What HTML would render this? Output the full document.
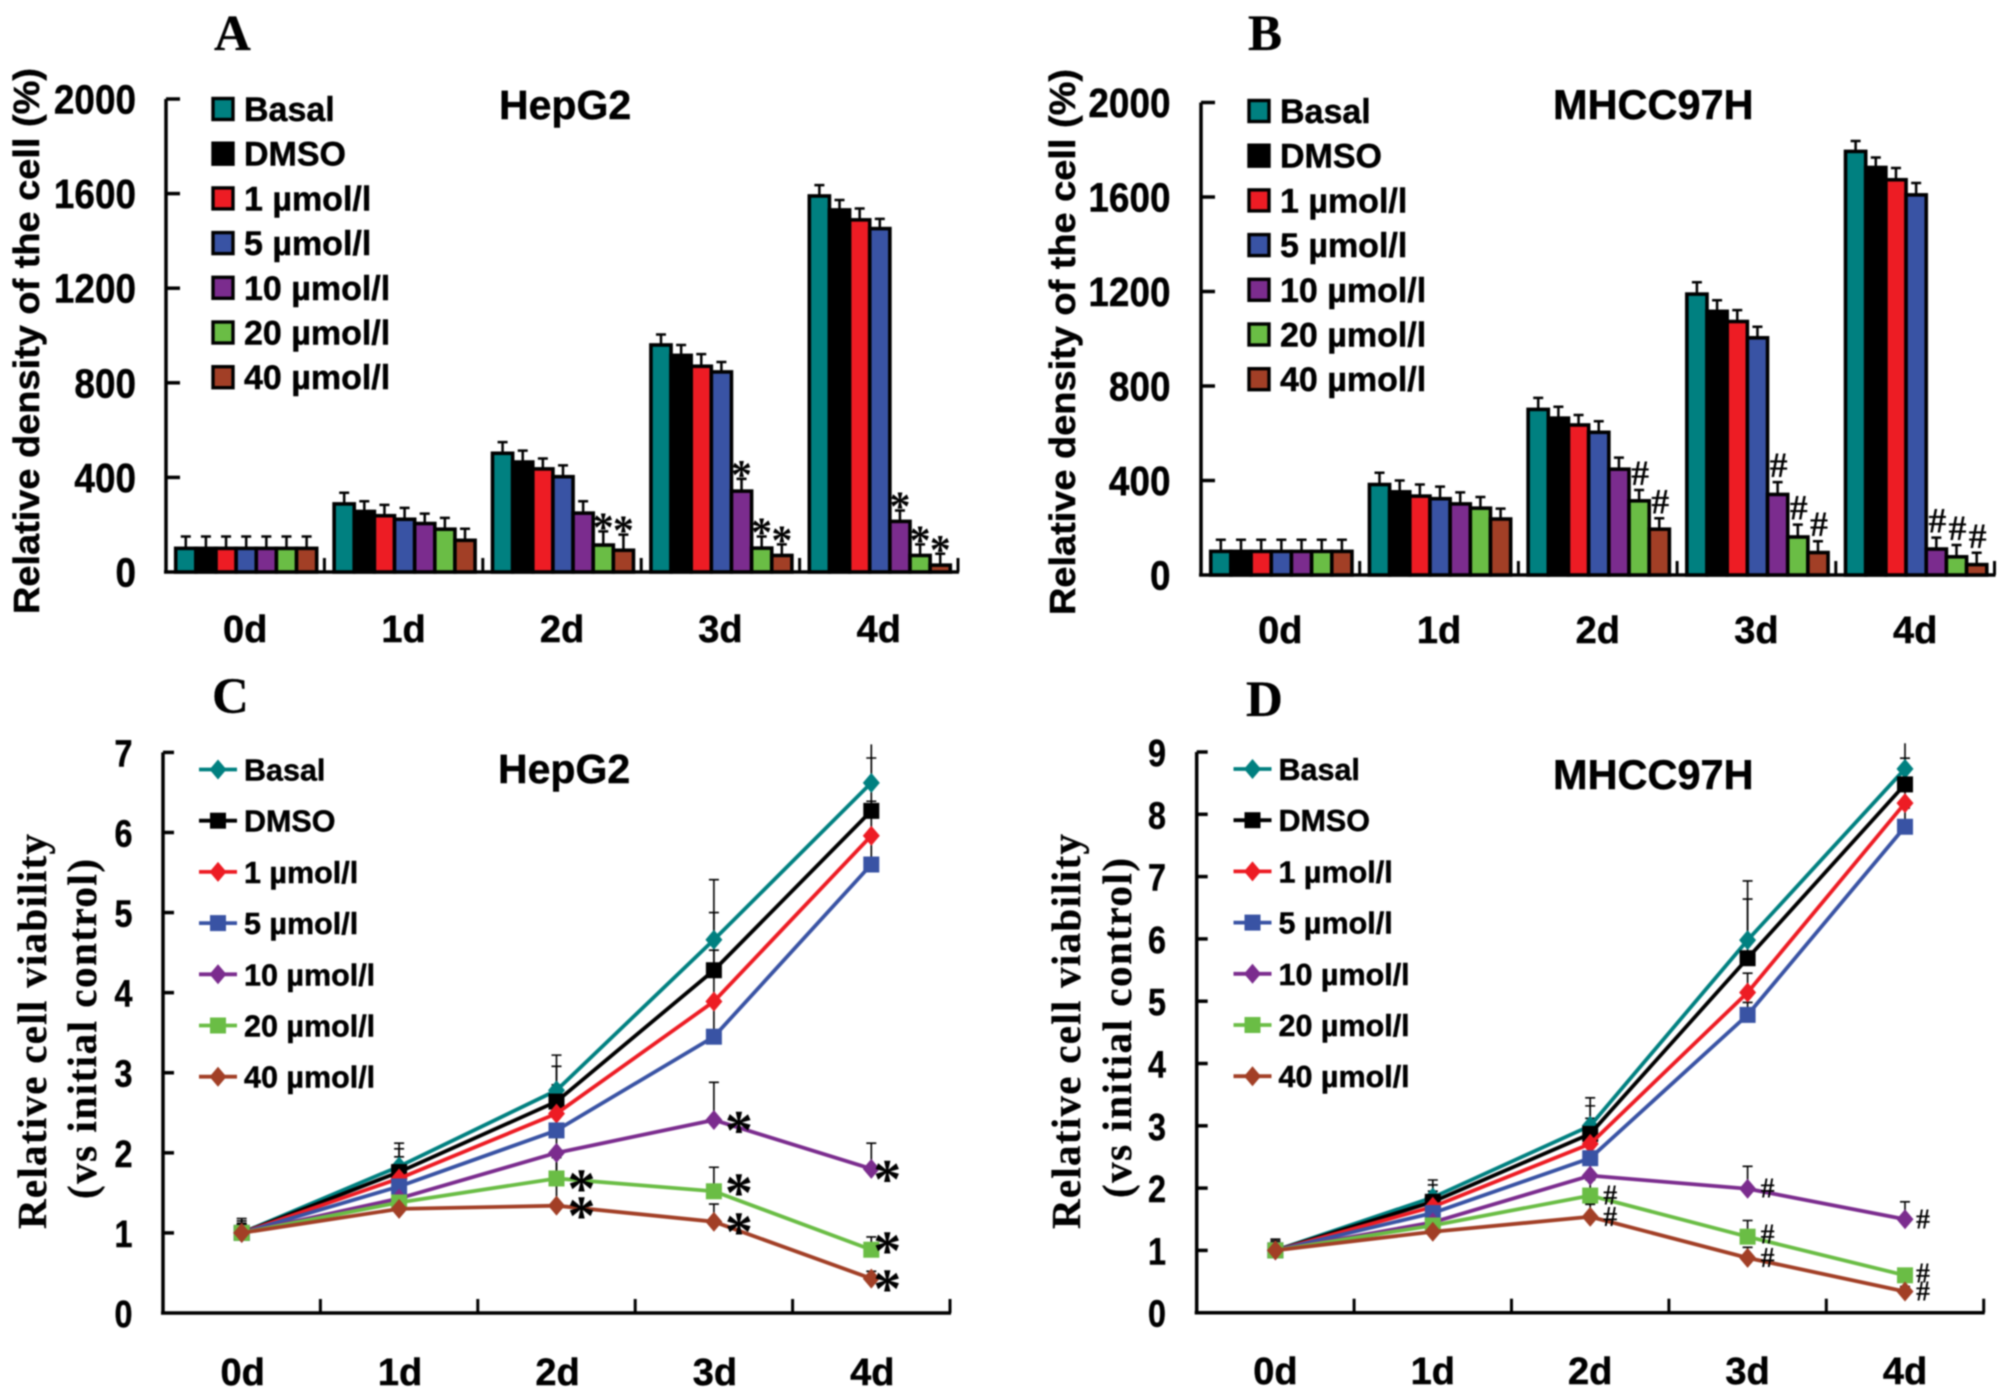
<!DOCTYPE html>
<html lang="en">
<head>
<meta charset="utf-8">
<title>Relative density and viability of HepG2 and MHCC97H cells</title>
<style>
html,body{margin:0;padding:0;background:#fff}
#figure{display:block;width:2008px;height:1399px;background:#fff;filter:blur(.7px)}
text{fill:#000}
.sans{font-family:"Liberation Sans",sans-serif;font-weight:700;stroke:#000;stroke-width:.45}
.serif{font-family:"Liberation Serif",serif;font-weight:700;stroke:#000;stroke-width:.3}
.mark{font-family:"Liberation Serif",serif;font-weight:700;text-anchor:middle}
</style>
</head>
<body>
<svg id="figure" xmlns="http://www.w3.org/2000/svg" width="2008" height="1399" viewBox="0 0 2008 1399">
  <g id="panel-a">
    <text class="serif" x="214" y="50" font-size="51">A</text>
    <text class="sans" x="499" y="119" font-size="41">HepG2</text>
    <text class="sans" transform="translate(39,614) rotate(-90)" font-size="36" textLength="546" lengthAdjust="spacingAndGlyphs">Relative density of the cell (%)</text>
  </g>
  <g id="panel-b">
    <text class="serif" x="1248" y="50" font-size="51">B</text>
    <text class="sans" x="1553" y="119" font-size="41.5">MHCC97H</text>
    <text class="sans" transform="translate(1075,615) rotate(-90)" font-size="36" textLength="546" lengthAdjust="spacingAndGlyphs">Relative density of the cell (%)</text>
  </g>
  <g id="panel-c">
    <text class="serif" x="212" y="713" font-size="51">C</text>
    <text class="sans" x="498" y="783" font-size="41">HepG2</text>
    <text class="serif" transform="translate(46,1229) rotate(-90)" font-size="41" textLength="395">Relative cell viability</text>
    <text class="serif" transform="translate(96,1199) rotate(-90)" font-size="41" textLength="340">(vs initial control)</text>
  </g>
  <g id="panel-d">
    <text class="serif" x="1246" y="716" font-size="51">D</text>
    <text class="sans" x="1553" y="789" font-size="41.5">MHCC97H</text>
    <text class="serif" transform="translate(1080,1229) rotate(-90)" font-size="41" textLength="395">Relative cell viability</text>
    <text class="serif" transform="translate(1131,1198) rotate(-90)" font-size="41" textLength="340">(vs initial control)</text>
  </g>
</svg>
<script>
// ---- shared categories and series ----
const days = ['0d', '1d', '2d', '3d', '4d'];
const seriesNames = ['Basal', 'DMSO', '1 \u00b5mol/l', '5 \u00b5mol/l', '10 \u00b5mol/l', '20 \u00b5mol/l', '40 \u00b5mol/l'];
const densityTicks = ['0', '400', '800', '1200', '1600', '2000'];
const viabilityTicksC = ['0', '1', '2', '3', '4', '5', '6', '7'];
const viabilityTicksD = ['0', '1', '2', '3', '4', '5', '6', '7', '8', '9'];

// ---- panel A: one row per series, one value per day ----
const valuesA = [
  [100, 288, 502, 960, 1590],
  [100, 256, 465, 916, 1531],
  [100, 238, 436, 870, 1489],
  [100, 223, 403, 846, 1452],
  [100, 205, 249, 342, 214],
  [100, 181, 114, 101, 70],
  [100, 134, 92, 70, 29]
];
const errorsA = [
  [50, 47, 47, 44, 46],
  [50, 43, 48, 44, 42],
  [50, 46, 44, 51, 48],
  [50, 48, 48, 42, 41],
  [50, 42, 50, 52, 46],
  [50, 48, 58, 49, 47],
  [50, 49, 66, 47, 48]
];
// [series index, day index]
const significantA = [[5, 2], [6, 2], [4, 3], [5, 3], [6, 3], [4, 4], [5, 4], [6, 4]];

// ---- panel B ----
const valuesB = [
  [100, 383, 701, 1189, 1793],
  [100, 352, 664, 1116, 1725],
  [100, 334, 635, 1073, 1673],
  [100, 323, 604, 1004, 1609],
  [100, 301, 448, 341, 110],
  [100, 283, 314, 161, 77],
  [100, 237, 194, 95, 44]
];
const errorsB = [
  [49, 50, 49, 50, 44],
  [49, 48, 48, 47, 42],
  [49, 49, 42, 48, 50],
  [49, 51, 47, 47, 50],
  [49, 49, 49, 52, 48],
  [49, 47, 46, 52, 50],
  [49, 44, 46, 48, 50]
];
const significantB = [[5, 2], [6, 2], [4, 3], [5, 3], [6, 3], [4, 4], [5, 4], [6, 4]];

// ---- panel C ----
const valuesC = [
  [1, 1.83, 2.78, 4.66, 6.62],
  [1, 1.76, 2.64, 4.28, 6.27],
  [1, 1.68, 2.49, 3.89, 5.96],
  [1, 1.58, 2.28, 3.45, 5.6],
  [1, 1.43, 2.0, 2.41, 1.8],
  [1, 1.38, 1.68, 1.52, 0.79],
  [1, 1.3, 1.34, 1.14, 0.43]
];
const errorsC = [
  [0.18, 0.29, 0.44, 0.75, 0.48],
  [0.15, 0.29, 0.44, 0.72, 0.66],
  [0.12, 0.27, 0.36, 0.64, 0.43],
  [0.1, 0.2, 0.3, 0.4, 0.35],
  [0.1, 0.2, 0.3, 0.47, 0.32],
  [0.1, 0.15, 0.3, 0.3, 0.16],
  [0.1, 0.15, 0.6, 0.22, 0.09]
];
const significantC = [[4, 3], [4, 4], [5, 2], [5, 3], [5, 4], [6, 2], [6, 3], [6, 4]];

// ---- panel D ----
const valuesD = [
  [1, 1.85, 3.0, 5.98, 8.73],
  [1, 1.78, 2.87, 5.69, 8.48],
  [1, 1.7, 2.71, 5.14, 8.18],
  [1, 1.6, 2.48, 4.78, 7.8],
  [1, 1.45, 2.2, 1.99, 1.5],
  [1, 1.4, 1.88, 1.22, 0.6],
  [1, 1.3, 1.54, 0.88, 0.34]
];
const errorsD = [
  [0.18, 0.28, 0.45, 0.95, 0.41],
  [0.15, 0.27, 0.45, 0.95, 0.42],
  [0.12, 0.25, 0.41, 0.31, 0.3],
  [0.1, 0.2, 0.3, 0.2, 0.3],
  [0.1, 0.2, 0.3, 0.36, 0.28],
  [0.1, 0.15, 0.25, 0.26, 0.1],
  [0.1, 0.15, 0.2, 0.17, 0.08]
];
const significantD = [[4, 3], [4, 4], [5, 2], [5, 3], [5, 4], [6, 2], [6, 3], [6, 4]];

// ---- appearance ----
const fillColors = ['#008080', '#000000', '#ED1C24', '#3953A4', '#7B2C8E', '#6ABD45', '#A23F26'];
const markerShapes = ['diamond', 'square', 'diamond', 'square', 'diamond', 'square', 'diamond'];
const SVG_NS = 'http://www.w3.org/2000/svg';

function make(tag, attrs, parent) {
  const node = document.createElementNS(SVG_NS, tag);
  for (const key in attrs) node.setAttribute(key, attrs[key]);
  parent.appendChild(node);
  return node;
}

function slug(name) {
  return name.replace(/\u00b5mol\/l/, 'umol').replace(/\s+/g, '-').toLowerCase();
}

function drawAxes(p, g, ticks) {
  const maxTick = Number(ticks[ticks.length - 1]);
  const y = v => p.y0 - v * (p.y0 - p.yTop) / maxTick;
  const band = (p.xEnd - p.x0) / days.length;
  const yAxis = make('line', {x1: p.x0, y1: p.y0, x2: p.x0, y2: p.yTop, stroke: '#000', 'stroke-width': 3.5}, g);
  
  
  const xAxis = make('line', {x1: p.x0 - 2, y1: p.y0, x2: p.xEnd + 1, y2: p.y0, stroke: '#000', 'stroke-width': 3.5}, g);
  
  
  ticks.forEach(label => {
    const v = Number(label);
    if (v > 0) {
      const mark = make('line', {x1: p.x0, y1: y(v), x2: p.x0 + p.tickLen, y2: y(v), stroke: '#000', 'stroke-width': 3.5}, g);
      
      
    }
    const t = make('text', {'class': 'sans', 'text-anchor': 'end', 'font-size': p.tickFont,
      transform: 'translate(' + p.tickRight + ',' + (y(v) + p.tickDy) + ') scale(' + p.tickSquash + ',1)'}, g);
    t.textContent = label;
    
    
  });
  days.forEach((day, i) => {
    const bx = p.x0 + band * (i + 1);
    const mark = make('line', {x1: bx, y1: p.y0, x2: bx, y2: p.y0 - 14, stroke: '#000', 'stroke-width': 3}, g);
    
    
    const t = make('text', {'class': 'sans', 'text-anchor': 'middle', 'font-size': 38, x: p.x0 + band * (i + 0.5) + p.labelDx, y: p.labelY}, g);
    t.textContent = day;
    
    
  });
  return {y: y, band: band};
}

function drawBarPanel(p, values, errors, ticks, significant) {
  const g = document.getElementById(p.id);
  const axis = drawAxes(p, g, ticks);
  const inner = axis.band * 0.89;
  const w = inner / seriesNames.length;
  const barX = (s, d) => p.x0 + 1 + axis.band * d + (axis.band - inner) / 2 + s * w;
  values.forEach((row, s) => {
    row.forEach((v, d) => {
      const cx = barX(s, d) + w / 2;
      const stem = make('path', {d: 'M' + cx + ' ' + axis.y(v) + 'V' + axis.y(v + errors[s][d]) + 'M' + (cx - 5) + ' ' + axis.y(v + errors[s][d]) + 'H' + (cx + 5),
        fill: 'none', stroke: '#000', 'stroke-width': 2.5}, g);
      
      
    });
  });
  values.forEach((row, s) => {
    row.forEach((v, d) => {
      const bar = make('rect', {x: barX(s, d), y: axis.y(v), width: w, height: p.y0 - axis.y(v),
        fill: fillColors[s], stroke: '#000', 'stroke-width': 3.6}, g);
      
      
    });
  });
  significant.forEach(pair => {
    const s = pair[0], d = pair[1];
    const top = axis.y(values[s][d] + errors[s][d]);
    const t = make('text', {'class': 'mark', 'font-size': p.markFont, x: barX(s, d) + w / 2 + p.markDx, y: top + p.markDy}, g);
    t.textContent = p.markChar;
    
    
  });
  seriesNames.forEach((name, s) => {
    const cy = p.legendY + s * p.legendStep;
    const swatch = make('rect', {x: p.legendX, y: cy - 10.5, width: 20, height: 21, fill: fillColors[s], stroke: '#000', 'stroke-width': 3.4}, g);
    
    
    const t = make('text', {'class': 'sans', 'font-size': 34, x: p.legendX + 31, y: cy + 12}, g);
    t.textContent = name;
    
    
  });
}

function drawMarker(g, shape, cx, cy, color) {
  let node;
  if (shape === 'square') {
    node = make('rect', {x: cx - 8, y: cy - 8, width: 16, height: 16, fill: color}, g);
  } else {
    node = make('path', {d: 'M' + (cx - 8.5) + ' ' + cy + 'L' + cx + ' ' + (cy - 10) + 'L' + (cx + 8.5) + ' ' + cy + 'L' + cx + ' ' + (cy + 10) + 'Z', fill: color}, g);
  }
  return node;
}

function drawLinePanel(p, values, errors, ticks, significant) {
  const g = document.getElementById(p.id);
  const axis = drawAxes(p, g, ticks);
  const maxTick = Number(ticks[ticks.length - 1]);
  const x = d => p.x0 + axis.band * (d + 0.5);
  values.forEach((row, s) => {
    row.forEach((v, d) => {
      const cx = x(d), top = axis.y(v + errors[s][d]);
      // The cap of an error bar running past the top of the axis is cut off.
      const cap = (v + errors[s][d] > maxTick) ? '' : 'M' + (cx - 5) + ' ' + top + 'H' + (cx + 5);
      const stem = make('path', {d: 'M' + cx + ' ' + axis.y(v) + 'V' + top + cap,
        fill: 'none', stroke: '#000', 'stroke-width': 1.6}, g);
      
      
    });
  });
  values.forEach((row, s) => {
    const pts = row.map((v, d) => x(d) + ',' + axis.y(v)).join(' ');
    const line = make('polyline', {points: pts, fill: 'none', stroke: fillColors[s], 'stroke-width': 3.8, 'stroke-linejoin': 'round'}, g);
    
    
    row.forEach((v, d) => {
      const m = drawMarker(g, markerShapes[s], x(d), axis.y(v), fillColors[s]);
      
      
    });
  });
  significant.forEach(pair => {
    const s = pair[0], d = pair[1];
    const dx = d === 4 ? p.markDxLast : p.markDx;
    const lift = (s === 5 && d >= 3) ? p.markLift : 0;
    const t = make('text', {'class': 'mark', 'font-size': p.markFont, x: x(d) + dx, y: axis.y(values[s][d]) + p.markDy - lift}, g);
    t.textContent = p.markChar;
    
    
  });
  seriesNames.forEach((name, s) => {
    const cy = p.legendY + s * p.legendStep;
    const key = make('line', {x1: p.legendX, y1: cy, x2: p.legendX + 38, y2: cy, stroke: fillColors[s], 'stroke-width': 3.8}, g);
    
    
    const m = drawMarker(g, markerShapes[s], p.legendX + 19, cy, fillColors[s]);
    
    
    const t = make('text', {'class': 'sans', 'font-size': 30.5, x: p.legendX + 45, y: cy + 11}, g);
    t.textContent = name;
    
    
  });
}

drawBarPanel({id: 'panel-a', x0: 166, xEnd: 958, y0: 572, yTop: 99, tickLen: 14, tickRight: 136, tickDy: 14.5, tickFont: 41, tickSquash: 0.9,
  labelY: 642, labelDx: 0, legendX: 213, legendY: 109, legendStep: 44.7, markChar: '*', markFont: 42, markDx: 0, markDy: 10}, valuesA, errorsA, densityTicks, significantA);
drawBarPanel({id: 'panel-b', x0: 1201, xEnd: 1994.5, y0: 575, yTop: 102.5, tickLen: 14, tickRight: 1170.5, tickDy: 14.5, tickFont: 41, tickSquash: 0.9,
  labelY: 643, labelDx: 0, legendX: 1249, legendY: 111, legendStep: 44.7, markChar: '#', markFont: 36, markDx: 1, markDy: -5}, valuesB, errorsB, densityTicks, significantB);
drawLinePanel({id: 'panel-c', x0: 163, xEnd: 950, y0: 1313, yTop: 752.4, tickLen: 11, tickRight: 132.5, tickDy: 14, tickFont: 38, tickSquash: 0.85,
  labelY: 1385, labelDx: 1, legendX: 199, legendY: 769.5, legendStep: 51.2, markChar: '*', markFont: 56, markDx: 25, markDxLast: 16, markDy: 29, markLift: 9}, valuesC, errorsC, viabilityTicksC, significantC);
drawLinePanel({id: 'panel-d', x0: 1196.7, xEnd: 1983.7, y0: 1312.7, yTop: 752, tickLen: 11, tickRight: 1166, tickDy: 14, tickFont: 38, tickSquash: 0.85,
  labelY: 1384, labelDx: 0, legendX: 1233.5, legendY: 769, legendStep: 51.2, markChar: '#', markFont: 28, markDx: 20, markDxLast: 18, markDy: 9, markLift: 2}, valuesD, errorsD, viabilityTicksD, significantD);
</script>
</body>
</html>
